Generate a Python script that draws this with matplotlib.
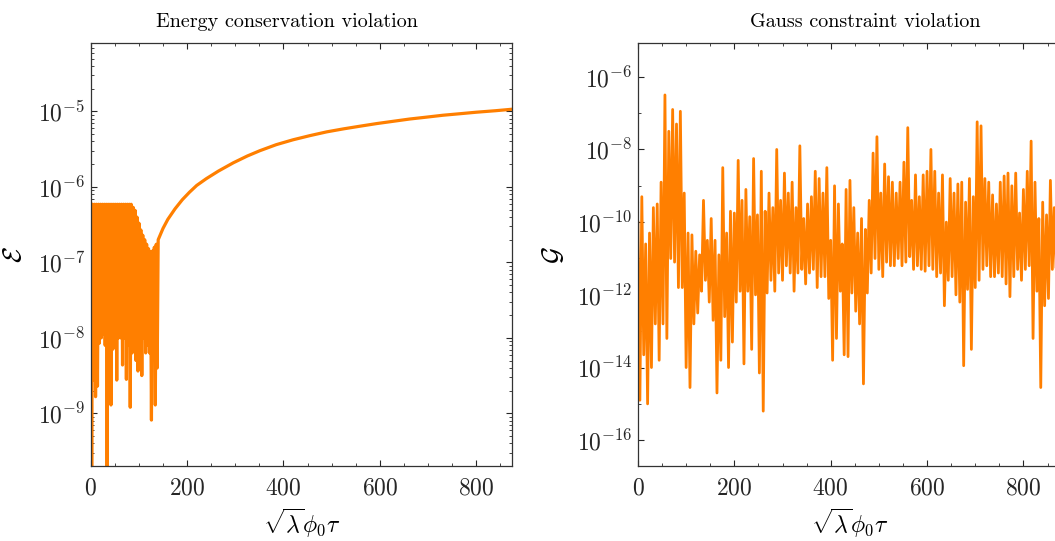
import numpy as np
import matplotlib
matplotlib.use('Agg')
from matplotlib import pyplot as plt
from matplotlib.ticker import MultipleLocator, LogLocator, FixedLocator, NullFormatter

plt.rcParams['font.family'] = 'serif'
plt.rcParams['font.serif'] = ['cmr10']
plt.rcParams['mathtext.fontset'] = 'cm'
plt.rcParams['axes.formatter.use_mathtext'] = True

orange = '#ff7f00'

# --- Energy violation: noisy start (log10 values) ---
# upper excursions at tau = 0, 4, ..., 136
e_hi = [-6.23] * 22 + [-6.27, -6.31, -6.40, -6.48, -6.57, -6.64, -6.70,
                       -6.76, -6.82, -6.86, -6.85, -6.80, -6.76]
# lower excursions at tau = 2, 6, ..., 138
e_lo = [-9.8, -8.56, -8.78, -8.64, -8.07, -8.0, -7.95, -8.1, -9.8, -8.0,
        -8.89, -8.15, -7.95, -8.56, -8.0, -8.0, -8.36, -8.0, -8.55, -8.1,
        -8.92, -8.2, -8.0, -8.3, -8.44, -8.1, -8.5, -8.0, -8.2, -8.1,
        -8.2, -9.09, -8.3, -8.89, -8.4]
# smooth drift after the noise
e_tau = [140, 150, 160, 175, 190, 205, 220, 240, 265, 296, 325, 351, 385,
         420, 455, 490, 525, 559, 594, 628, 662, 697, 731, 766, 800, 840, 875]
e_smooth = [-6.70, -6.55, -6.43, -6.29, -6.17, -6.07, -5.98, -5.89, -5.79,
            -5.68, -5.59, -5.52, -5.44, -5.375, -5.32, -5.27, -5.23, -5.195,
            -5.16, -5.13, -5.10, -5.075, -5.05, -5.03, -5.01, -4.99, -4.97]

# --- Gauss violation (log10), upper excursions at tau = 0, 8, ..., 864 ---
g_hi = [-10.0, -9.3, -10.6, -10.3, -9.6, -9.5, -8.9, -6.5, -7.5, -6.9,
        -7.3, -6.95, -9.2, -10.3, -10.35, -10.8, -10.9, -9.4, -10.5, -9.9,
        -10.5, -10.9, -8.5, -10.3, -9.7, -9.75, -8.3, -9.4, -9.1, -9.85,
        -8.25, -9.8, -8.6, -9.7, -9.2, -9.6, -8.0, -9.4, -8.65, -9.2,
        -8.9, -9.6, -7.9, -9.9, -9.5, -9.3, -8.6, -8.8, -9.2, -8.5,
        -10.5, -9.0, -9.5, -10.6, -9.1, -8.85, -9.6, -10.3, -9.9, -10.2,
        -9.4, -8.1, -7.65, -9.2, -8.4, -8.75, -8.9, -9.2, -8.9, -8.35,
        -7.4, -9.4, -8.7, -9.3, -8.7, -8.6, -8.0, -8.6, -9.2, -8.7,
        -10.0, -8.8, -9.2, -8.95, -8.9, -9.45, -8.8, -9.3, -7.24, -7.35,
        -8.8, -8.9, -9.25, -9.5, -8.9, -8.73, -8.65, -9.0, -8.65, -9.75,
        -9.1, -8.6, -7.77, -8.9, -9.9, -9.45, -9.8, -8.85, -9.6]
# lower excursions at tau = 4, 12, ..., 868
g_lo = [-14.9, -13.65, -15.0, -14.0, -12.8, -13.8, -12.8, -13.2, -11.0, -11.1,
        -11.8, -11.8, -14.0, -14.55, -12.8, -12.5, -11.9, -11.6, -12.2, -12.7,
        -14.7, -13.8, -12.6, -14.0, -13.3, -12.2, -11.9, -13.9, -11.9, -13.5,
        -12.0, -14.15, -15.2, -11.95, -11.6, -11.9, -11.4, -11.6, -11.2, -11.4,
        -11.9, -11.4, -11.3, -11.7, -11.4, -11.3, -11.8, -11.5, -11.5, -12.1,
        -13.8, -13.2, -11.9, -13.65, -13.7, -11.95, -12.45, -12.8, -14.45, -11.95,
        -11.4, -11.0, -11.3, -11.5, -11.1, -11.2, -11.2, -11.0, -11.2, -11.1,
        -10.95, -11.3, -11.2, -11.3, -11.35, -11.2, -11.3, -11.5, -11.4, -12.3,
        -11.6, -11.5, -12.0, -12.2, -13.95, -11.85, -13.5, -11.8, -11.6, -11.3,
        -11.2, -11.5, -11.5, -11.4, -11.5, -11.7, -12.05, -11.5, -11.3, -11.6,
        -11.3, -11.2, -13.2, -11.9, -14.55, -12.3, -12.1, -11.3, -11.4]


def zigzag(x_hi, y_hi, x_lo, y_lo):
    x = np.empty(len(x_hi) + len(x_lo))
    y = np.empty_like(x)
    x[0::2], x[1::2] = x_hi, x_lo
    y[0::2], y[1::2] = y_hi, y_lo
    return x, y


ex, ey = zigzag(np.arange(0, 137, 4), e_hi, np.arange(2, 139, 4), e_lo)
ex = np.concatenate([ex, e_tau])
ey = 10.0 ** np.concatenate([ey, e_smooth])

gx, gy = zigzag(np.arange(0, 865, 8), g_hi, np.arange(4, 869, 8), g_lo)
gy = 10.0 ** gy

fig = plt.figure(figsize=(10.55, 5.41), dpi=100)
ax1 = fig.add_axes([0.086, 0.1386, 0.3996, 0.7813])
ax2 = fig.add_axes([0.6047, 0.1386, 0.4019, 0.7813])

ax1.plot(ex, ey, color=orange, lw=2.3)
ax2.plot(gx, gy, color=orange, lw=2.0)

for ax in (ax1, ax2):
    ax.set_yscale('log')
    ax.xaxis.set_major_locator(MultipleLocator(200))
    ax.xaxis.set_minor_locator(MultipleLocator(50))
    ax.tick_params(which='both', direction='in', top=True, right=True,
                   colors='0.15', labelcolor='0.15', labelsize=17)
    ax.tick_params(which='major', length=4.5, width=0.8)
    ax.tick_params(which='minor', length=2.5, width=0.6)
    ax.tick_params(axis='x', pad=8)
    ax.tick_params(axis='y', pad=4)
    for s in ax.spines.values():
        s.set_color('0.2')
        s.set_linewidth(0.9)
    ax.set_xlabel(r'$\sqrt{\lambda}\phi_0\tau$', fontsize=17, labelpad=5)

ax1.set_xlim(0, 875)
ax1.set_ylim(2e-10, 8e-5)
ax1.yaxis.set_major_locator(LogLocator(base=10, numticks=20))
ax1.yaxis.set_minor_locator(LogLocator(base=10, subs=np.arange(2, 10), numticks=20))
ax1.yaxis.set_minor_formatter(NullFormatter())
ax1.set_ylabel(r'$\mathcal{E}$', fontsize=19, labelpad=8)
ax1.set_title('Energy conservation violation', fontsize=14.5, pad=12, x=0.465)

ax2.set_xlim(0, 880)
ax2.set_ylim(10 ** -16.71, 10 ** -5.08)
ax2.yaxis.set_major_locator(FixedLocator([1e-16, 1e-14, 1e-12, 1e-10, 1e-8, 1e-6]))
ax2.yaxis.set_minor_locator(FixedLocator([1e-15, 1e-13, 1e-11, 1e-9, 1e-7]))
ax2.yaxis.set_minor_formatter(NullFormatter())
ax2.set_ylabel(r'$\mathcal{G}$', fontsize=19, labelpad=8)
ax2.set_title('Gauss constraint violation', fontsize=14.5, pad=12, x=0.535)

fig.savefig('out.png', dpi=100)
